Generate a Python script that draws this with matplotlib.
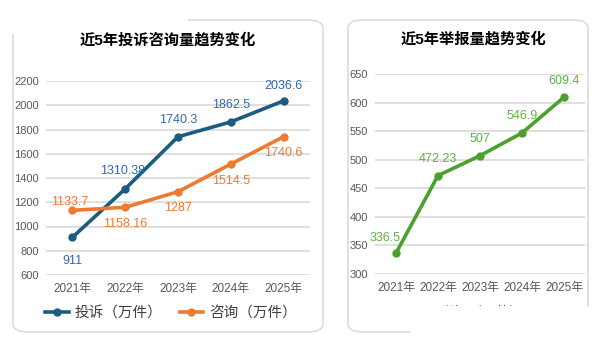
import matplotlib.pyplot as plt
from matplotlib.patches import FancyBboxPatch, Rectangle

plt.rcParams['font.family'] = ['Liberation Sans', 'Noto Sans CJK SC', 'DejaVu Sans']

# Дані
years = ['2021年', '2022年', '2023年', '2024年', '2025年']
complaints = [911, 1310.38, 1740.3, 1862.5, 2036.6]
consults = [1133.7, 1158.16, 1287, 1514.5, 1740.6]
reports = [336.5, 472.23, 507, 546.9, 609.4]
complaint_labels = ['911', '1310.38', '1740.3', '1862.5', '2036.6']
consult_labels = ['1133.7', '1158.16', '1287', '1514.5', '1740.6']
report_labels = ['336.5', '472.23', '507', '546.9', '609.4']

BLUE = '#1c5c7e'
BLUE_TXT = '#2f6bb0'
ORANGE = '#ee7a32'
GREEN = '#4aa22c'
GREEN_TXT = '#5bb544'
GRID = '#d9d9d9'
TICK = '#595959'

fig = plt.figure(figsize=(6, 3.42), dpi=100)
W, H = 600, 342


def px_box(x0, y0, x1, y1):
    """ Піксельні координати -> частки фігури """
    return [x0 / W, 1 - y1 / H, (x1 - x0) / W, (y1 - y0) / H]


# Рамки панелей
def panel(x0, y0, x1, y1):
    b = px_box(x0, y0, x1, y1)
    p = FancyBboxPatch((b[0], b[1]), b[2], b[3], boxstyle='round,pad=0,rounding_size=0.025',
                       transform=fig.transFigure, fc='white', ec='#dcdcdc', lw=1.2, zorder=0)
    fig.add_artist(p)


panel(13, 20, 323, 332)
panel(348, 20, 588, 332)
# обрізані частини скриншоту
fig.add_artist(Rectangle((0, 1 - 34 / H), 188 / W, 34 / H, transform=fig.transFigure,
                         fc='white', ec='none', zorder=0.2))


def style_axes(ax, ylim, yticks):
    ax.set_zorder(1)
    ax.set_xlim(-0.5, 4.5)
    ax.set_ylim(*ylim)
    ax.set_yticks(yticks)
    ax.set_xticks(range(len(years)), years)
    ax.grid(axis='y', color=GRID, lw=1.2)
    ax.set_axisbelow(True)
    for s in ax.spines.values():
        s.set_visible(False)
    ax.tick_params(length=0, colors=TICK, labelsize=8)
    ax.tick_params(axis='x', labelsize=8.5, pad=6)
    ax.tick_params(axis='y', pad=5)
    ax.patch.set_alpha(0)


def add_labels(ax, values, labels, offsets, color):
    for i, (v, t, off) in enumerate(zip(values, labels, offsets)):
        ax.annotate(t, (i, v), xytext=off, textcoords='offset points',
                    ha='center', va='center', fontsize=9, color=color)


# Ліва діаграма
ax1 = fig.add_axes(px_box(46, 81, 310, 275))
style_axes(ax1, (600, 2200), range(600, 2201, 200))
ax1.plot(range(5), complaints, color=BLUE, lw=2.6, marker='o', ms=5, label='投诉（万件）', zorder=3)
ax1.plot(range(5), consults, color=ORANGE, lw=2.6, marker='o', ms=5, label='咨询（万件）', zorder=3)
add_labels(ax1, complaints, complaint_labels,
           [(0, -17), (-2, 13), (0, 12), (0, 12), (0, 11)], BLUE_TXT)
add_labels(ax1, consults, consult_labels,
           [(-2, 6), (0, -12), (0, -12), (0, -12), (0, -12)], ORANGE)
ax1.set_title('近5年投诉咨询量趋势变化', fontsize=11, fontweight='bold', pad=26, x=0.46)
fig.legend(handles=ax1.get_lines(), loc='center', bbox_to_anchor=(171 / W, 1 - 313 / H),
           ncol=2, frameon=False, fontsize=10.5, handlelength=1.6, columnspacing=1.2,
           handletextpad=0.4, labelcolor='#404040')

# Права діаграма
ax2 = fig.add_axes(px_box(375, 74, 585, 274))
style_axes(ax2, (300, 650), range(300, 651, 50))
ax2.plot(range(5), reports, color=GREEN, lw=2.6, marker='o', ms=5, label='举报（万件）', zorder=3)
add_labels(ax2, reports, report_labels,
           [(-8, 11), (0, 12), (0, 12), (0, 12), (0, 12)], GREEN_TXT)
ax2.set_title('近5年举报量趋势变化', fontsize=11, fontweight='bold', pad=22, x=0.47)
fig.text(482 / W, 1 - 313 / H, '举报（万件）', ha='center', va='center', fontsize=10, color='#404040')
# обрізаний низ правої панелі
fig.add_artist(Rectangle((410 / W, 0), 1 - 410 / W, 1 - 306 / H, transform=fig.transFigure,
                         fc='white', ec='none', zorder=5))

fig.savefig('out.png', dpi=100)
